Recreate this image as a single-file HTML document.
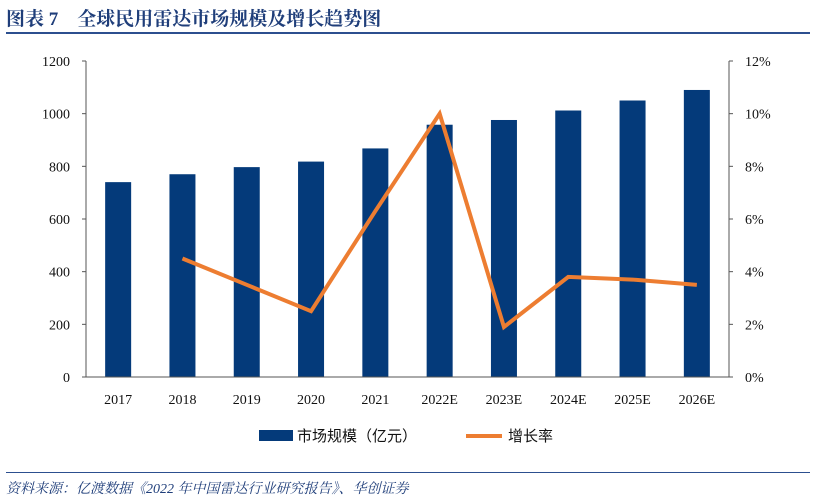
<!DOCTYPE html>
<html><head><meta charset="utf-8"><style>
body{margin:0;background:#fff;width:814px;height:502px;overflow:hidden;font-family:"Liberation Serif","Noto Serif CJK SC",serif}
.title{position:absolute;left:6px;top:4px;font-size:19px;font-weight:bold;color:#1f3e7a;font-family:"Liberation Serif","Noto Serif CJK SC",serif}
.rule{position:absolute;left:6px;width:804px;height:2px;background:#2c4f8f}
.src{position:absolute;left:6px;top:478px;font-size:14px;font-style:italic;color:#1f3e7a;font-family:"Liberation Serif","Noto Serif CJK SC",serif}
</style></head><body>
<div class="title">图表 7　全球民用雷达市场规模及增长趋势图</div>
<div class="rule" style="top:32px"></div>
<svg id="c" width="814" height="502" style="position:absolute;left:0;top:0"></svg>
<div class="rule" style="top:472px;height:1px"></div>
<div class="src">资料来源：亿渡数据《2022 年中国雷达行业研究报告》、华创证券</div>
<script>
const categories=["2017","2018","2019","2020","2021","2022E","2023E","2024E","2025E","2026E"];
const marketSize=[740,770,797,818,868,958,976,1012,1050,1090];
const growth=[null,4.5,3.5,2.5,6.3,10,1.9,3.8,3.7,3.5];
const leftTicks=[0,200,400,600,800,1000,1200];
const rightTicks=[0,2,4,6,8,10,12];
const NS="http://www.w3.org/2000/svg";
const svg=document.getElementById('c');
const x0=86,x1=729,yTop=61,yBot=377;
const band=(x1-x0)/categories.length;
const xC=i=>x0+band*(i+0.5);
const yL=v=>yBot-(v/1200)*(yBot-yTop);
const yR=v=>yBot-(v/12)*(yBot-yTop);
function mk(t,a){const e=document.createElementNS(NS,t);for(const k in a)e.setAttribute(k,a[k]);svg.appendChild(e);return e;}
marketSize.forEach((v,i)=>{const r=mk('rect',{x:xC(i)-13,y:yL(v),width:26,height:yBot-yL(v),fill:'#043a7a'});

});
const ax=mk('path',{d:`M${x0} ${yTop}V${yBot}H${x1}V${yTop}`,stroke:'#555',fill:'none','stroke-width':1});


leftTicks.forEach(v=>{mk('line',{x1:x0-4,x2:x0,y1:yL(v),y2:yL(v),stroke:'#555'});
const t=mk('text',{x:x0-16,y:yL(v)+5,'text-anchor':'end','font-size':14,fill:'#111'});t.textContent=v;

});
rightTicks.forEach(v=>{mk('line',{x1:x1,x2:x1+4,y1:yR(v),y2:yR(v),stroke:'#555'});
const t=mk('text',{x:x1+16,y:yR(v)+5,'font-size':14,fill:'#111'});t.textContent=v+'%';

});
categories.forEach((c,i)=>{const t=mk('text',{x:xC(i),y:404,'text-anchor':'middle','font-size':14,fill:'#111'});t.textContent=c;

});
let d='';growth.forEach((g,i)=>{if(g==null)return;d+=(d?'L':'M')+xC(i)+' '+yR(g);});
const ln=mk('path',{d,stroke:'#ed7d31',fill:'none','stroke-width':4,'stroke-linejoin':'miter'});


const lb=mk('rect',{x:259,y:430,width:34,height:11,fill:'#043a7a'});


const lt=mk('text',{x:297,y:441,'font-size':15,fill:'#111','font-family':'Liberation Sans, Noto Sans CJK SC, sans-serif'});lt.textContent='市场规模（亿元）';


const ll=mk('line',{x1:466,x2:502,y1:436,y2:436,stroke:'#ed7d31','stroke-width':4});


const lt2=mk('text',{x:508,y:441,'font-size':15,fill:'#111','font-family':'Liberation Sans, Noto Sans CJK SC, sans-serif'});lt2.textContent='增长率';


</script>
</body></html>
